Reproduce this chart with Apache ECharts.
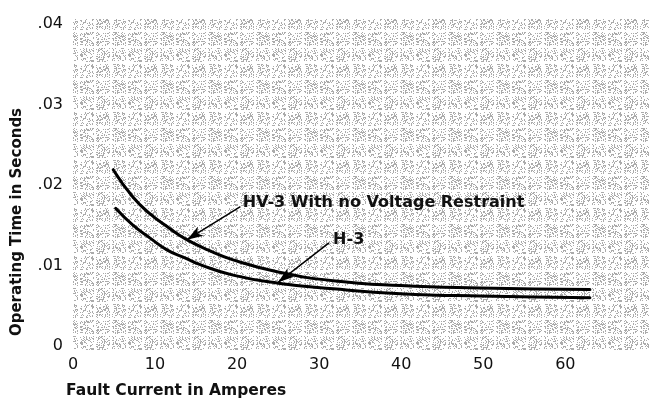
<!DOCTYPE html>
<html>
<head>
<meta charset="utf-8">
<script src="https://cdn.jsdelivr.net/npm/echarts@6/dist/echarts.min.js"></script>
<style>
html,body{margin:0;padding:0;background:#fff;}
#chart{width:649px;height:404px;}
</style>
</head>
<body>
<div id="chart"></div>
<script>
// ---- data ----
const hv3Current = [4.9, 7.3, 9.4, 11.5, 13.7, 16.5, 19.5, 25, 31.7, 39.9, 49.6, 63];
const hv3Time    = [0.0219, 0.0185, 0.0164, 0.0148, 0.0133, 0.0119, 0.0107, 0.0092, 0.0081, 0.0075, 0.0072, 0.0070];
const h3Current  = [5.2, 7.3, 9.4, 11.5, 13.7, 15.5, 19.5, 25, 31.7, 39.9, 49.6, 63];
const h3Time     = [0.0171, 0.0150, 0.0134, 0.0119, 0.0109, 0.0101, 0.0088, 0.0078, 0.0071, 0.0065, 0.0062, 0.0060];
const xTicks = [0, 10, 20, 30, 40, 50, 60];
const yTicks = [0, 0.01, 0.02, 0.03, 0.04];
const hv3Label = 'HV-3 With no Voltage Restraint';
const h3Label = 'H-3';
const xTitle = 'Fault Current in Amperes';
const yTitle = 'Operating Time in Seconds';

// graph-paper stipple texture (deterministic hash, decoration only)
const pat = document.createElement('canvas');
pat.width = 48; pat.height = 48;
const g = pat.getContext('2d');
g.fillStyle = '#ffffff'; g.fillRect(0, 0, 48, 48);
g.fillStyle = '#ababab';
for (let i = 0; i < 48; i++) {
  for (let j = 0; j < 48; j++) {
    if (i % 16 >= 14 || j % 16 >= 14) continue;
    const h = (((i * 2654435761) ^ (j * 40503 + 7919)) >>> 0) % 97;
    if (h < 30) g.fillRect(i, j, 1, 1);
  }
}

const pairs = (xs, ys) => xs.map((x, i) => [x, ys[i]]);
const font = '"DejaVu Sans", sans-serif';

const chart = echarts.init(document.getElementById('chart'), null, {renderer: 'canvas'});
chart.setOption({
  animation: false,
  backgroundColor: '#ffffff',
  grid: {
    left: 73, right: 0, top: 19, bottom: 52,
    show: true, borderWidth: 0,
    backgroundColor: {image: pat, repeat: 'repeat'}
  },
  xAxis: {
    type: 'value', min: 0, max: 70.2, interval: 10,
    axisLine: {show: false, onZero: false},
    axisTick: {show: false},
    splitLine: {show: false},
    axisLabel: {
      customValues: xTicks,
      margin: 5, fontSize: 16, fontFamily: font, color: '#111',
      formatter: v => String(v)
    }
  },
  yAxis: {
    type: 'value', min: -0.00075, max: 0.04062,
    axisLine: {show: false},
    axisTick: {show: false},
    splitLine: {show: false},
    axisLabel: {
      customValues: yTicks,
      margin: 10, fontSize: 16, fontFamily: font, color: '#111',
      formatter: v => v === 0 ? '0' : '.' + (Math.round(v * 100) < 10 ? '0' : '') + Math.round(v * 100)
    }
  },
  series: [
    {
      name: 'HV-3', type: 'line', smooth: true, symbol: 'none',
      lineStyle: {color: '#000', width: 3, cap: 'round'},
      data: pairs(hv3Current, hv3Time),
      markLine: {
        silent: true, symbol: ['none', 'arrow'], symbolSize: [8, 16],
        lineStyle: {color: '#000', width: 1.5, type: 'solid'},
        label: {show: false},
        data: [[{coord: [20.4, 0.0173]}, {coord: [13.9, 0.0132]}]]
      },
      markPoint: {
        silent: true, symbol: 'circle', symbolSize: 0,
        label: {show: true, position: 'right', distance: 0, formatter: hv3Label,
          fontFamily: font, fontWeight: 'bold', fontSize: 16, color: '#111'},
        data: [{coord: [20.7, 0.01775]}]
      }
    },
    {
      name: 'H-3', type: 'line', smooth: true, symbol: 'none',
      lineStyle: {color: '#000', width: 3, cap: 'round'},
      data: pairs(h3Current, h3Time),
      markLine: {
        silent: true, symbol: ['none', 'arrow'], symbolSize: [8, 16],
        lineStyle: {color: '#000', width: 1.5, type: 'solid'},
        label: {show: false},
        data: [[{coord: [31.2, 0.0128]}, {coord: [25.0, 0.0079]}]]
      },
      markPoint: {
        silent: true, symbol: 'circle', symbolSize: 0,
        label: {show: true, position: 'right', distance: 0, formatter: h3Label,
          fontFamily: font, fontWeight: 'bold', fontSize: 16, color: '#111'},
        data: [{coord: [31.7, 0.01317]}]
      }
    }
  ],
  graphic: [
    {type: 'text', x: 66, y: 391,
      style: {text: xTitle, fontFamily: font, fontSize: 15.5, fontWeight: 'bold', fill: '#111',
        align: 'left', verticalAlign: 'middle'}},
    {type: 'text', x: 17, y: 222, rotation: Math.PI / 2,
      style: {text: yTitle, fontFamily: font, fontSize: 15, fontWeight: 'bold', fill: '#111',
        align: 'center', verticalAlign: 'middle'}}
  ]
});
</script>
</body>
</html>
